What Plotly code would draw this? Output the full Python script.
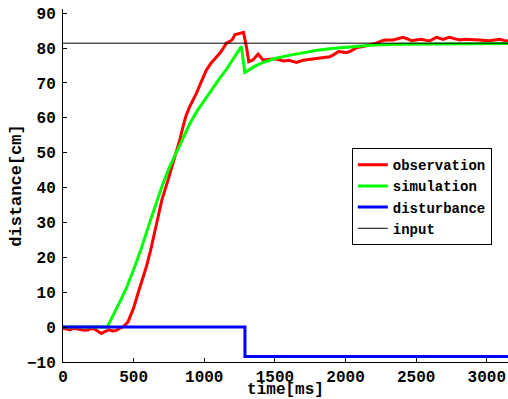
import plotly.graph_objects as go

# ---- data ----
obs_t = [0, 25, 50, 75, 100, 125, 150, 175, 200, 225, 250, 272, 300, 325, 350, 375, 400, 430,
         460, 500, 531, 560, 590, 620, 661, 700, 744, 780, 826, 850, 870, 897, 920, 944, 970,
         1000, 1015, 1050, 1080, 1110, 1135, 1157, 1180, 1200, 1216, 1250, 1278, 1300, 1315,
         1345, 1381, 1416, 1450, 1500, 1534, 1560, 1600, 1652, 1700, 1747, 1800, 1850, 1888,
         1920, 1950, 2007, 2040, 2077, 2110, 2140, 2180, 2219, 2250, 2280, 2337, 2370, 2407,
         2440, 2467, 2500, 2538, 2570, 2597, 2644, 2670, 2691, 2720, 2738, 2770, 2809, 2845,
         2880, 2915, 2951, 2985, 3021, 3055, 3092, 3120, 3150]
obs_v = [-0.3, -0.6, -0.8, -0.3, -0.5, -0.8, -0.9, -0.8, -0.4, -0.6, -1.3, -1.8, -1.2, -0.8,
         -1.1, -1.0, -0.4, 0.2, 1.5, 5.5, 9.7, 13.5, 17.3, 22.0, 29.7, 36.5, 42.2, 47.0, 53.6,
         57.5, 60.5, 63.2, 65.0, 67.0, 69.5, 72.3, 73.7, 75.8, 77.2, 78.5, 80.0, 81.4, 81.9,
         82.5, 83.8, 84.2, 84.5, 80.0, 76.1, 76.6, 78.3, 76.6, 76.8, 76.9, 76.6, 76.3, 76.5,
         75.9, 76.5, 76.8, 77.1, 77.3, 77.5, 78.2, 79.0, 78.7, 79.2, 80.1, 80.3, 80.6, 81.0,
         81.4, 82.0, 82.3, 82.3, 82.7, 83.1, 82.6, 82.1, 82.3, 82.5, 82.2, 82.1, 83.1, 82.7,
         82.5, 82.9, 83.1, 82.7, 82.3, 82.5, 82.5, 82.3, 82.3, 82.2, 82.1, 82.3, 82.5, 82.2, 82.0]

sim_t = [0, 313, 400, 450, 500, 550, 600, 650, 700, 750, 800, 850, 900, 950, 1000, 1050, 1100,
         1150, 1200, 1263, 1287, 1350, 1400, 1450, 1500, 1600, 1700, 1800, 1900, 2000, 2100,
         2200, 2400, 2600, 2800, 3000, 3150]
sim_v = [0, 0, 7.0, 11.3, 16.5, 22.0, 28.3, 34.5, 40.3, 45.5, 50.0, 54.5, 58.5, 62.0, 65.0,
         68.0, 70.8, 73.5, 76.5, 80.5, 73.0, 74.6, 75.6, 76.4, 77.0, 77.9, 78.7, 79.4, 79.9,
         80.3, 80.6, 80.9, 81.1, 81.2, 81.3, 81.3, 81.3]

dist_t = [0, 1288, 1288, 3150]
dist_v = [0, 0, -8.4, -8.4]

inp_t = [0, 3150]
inp_v = [81.4, 81.4]

x_ticks = [0, 500, 1000, 1500, 2000, 2500, 3000]
y_ticks = [-10, 0, 10, 20, 30, 40, 50, 60, 70, 80, 90]

FONT = "Liberation Mono, Courier New, monospace"

fig = go.Figure()
fig.add_trace(go.Scatter(x=obs_t, y=obs_v, mode="lines", name="observation",
                         line=dict(color="#ff0000", width=3)))
fig.add_trace(go.Scatter(x=sim_t, y=sim_v, mode="lines", name="simulation",
                         line=dict(color="#00ff00", width=3)))
fig.add_trace(go.Scatter(x=dist_t, y=dist_v, mode="lines", name="disturbance",
                         line=dict(color="#0000ff", width=3)))
fig.add_trace(go.Scatter(x=inp_t, y=inp_v, mode="lines", name="input",
                         line=dict(color="#000000", width=1)))

axis_common = dict(showgrid=False, zeroline=False, showline=True, linecolor="black",
                   linewidth=1, ticks="inside", ticklen=4, tickcolor="black", automargin=False,
                   tickfont=dict(family=FONT, size=16, color="black", weight="bold"))

fig.update_layout(
    width=508, height=399,
    margin=dict(l=63, r=0, t=9, b=37),
    paper_bgcolor="white", plot_bgcolor="white",
    font=dict(family=FONT, size=16, color="black", weight="bold"),
    xaxis=dict(range=[0, 3150], tickvals=x_ticks, **axis_common,
               title=dict(text="time[ms]", standoff=3,
                          font=dict(family=FONT, size=16, weight="bold"))),
    yaxis=dict(range=[-10, 91.2], tickvals=y_ticks, ticklabelstandoff=3, **axis_common,
               title=dict(text="distance[cm]", standoff=1,
                          font=dict(family=FONT, size=17, weight="bold"))),
    legend=dict(x=0.649, y=0.606, xanchor="left", yanchor="top",
                bgcolor="white", bordercolor="black", borderwidth=1,
                font=dict(family=FONT, size=14, weight="bold"),
                tracegroupgap=0, itemwidth=30),
    showlegend=True,
)

fig.write_html("out.html", config={"displayModeBar": False},
               post_script="document.body.style.margin='0';document.body.style.overflow='hidden';")
